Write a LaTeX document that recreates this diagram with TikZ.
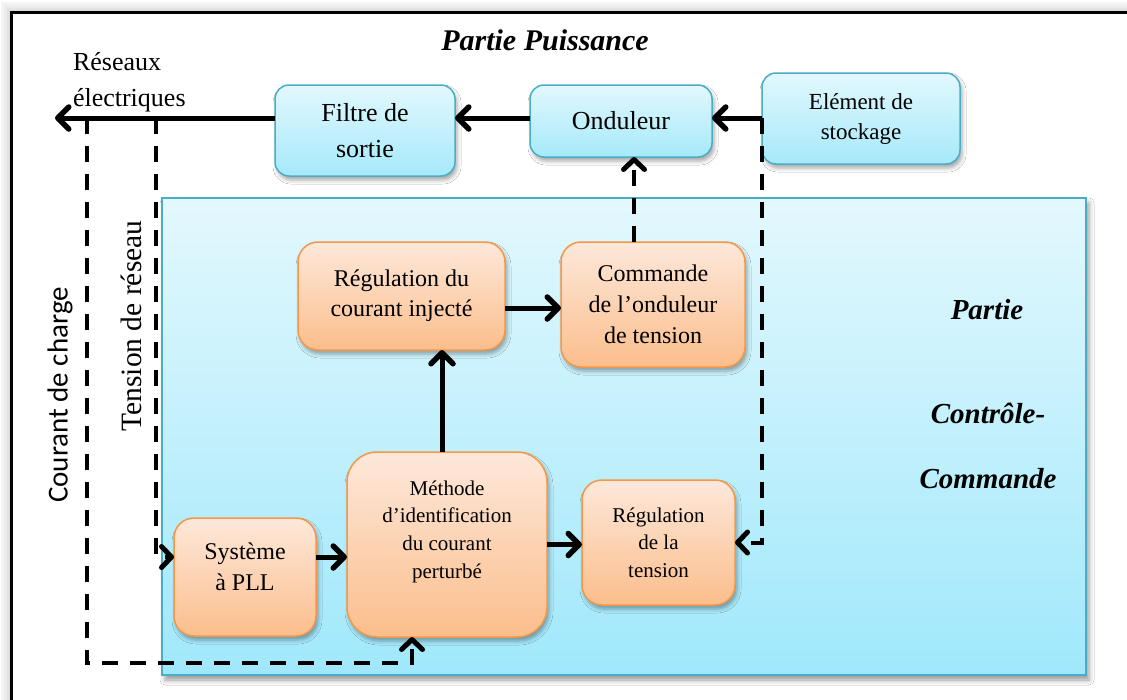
\documentclass[tikz,border=0pt]{standalone}
\usepackage{fontspec}
\setmainfont{Liberation Serif}
\newfontfamily\labelsans{Carlito}
\usetikzlibrary{arrows.meta,shadows.blur}

\definecolor{boxteal}{RGB}{75,172,198}
\definecolor{bluetop}{RGB}{226,248,253}
\definecolor{bluebot}{RGB}{166,233,250}
\definecolor{paneltop}{RGB}{227,248,253}
\definecolor{panelbot}{RGB}{160,232,252}
\definecolor{boxorange}{RGB}{247,150,70}
\definecolor{orangetop}{RGB}{253,232,218}
\definecolor{orangebot}{RGB}{251,190,140}

\begin{document}
\begin{tikzpicture}[x=1pt,y=-1pt,
  every node/.style={inner sep=0pt,outer sep=0pt},
  softshadow/.style={blur shadow={shadow xshift=2pt,shadow yshift=-4pt,
      shadow blur radius=4pt,shadow opacity=35}},
  pbox/.style={draw=boxteal,line width=1.5pt,rounded corners=14pt,
      top color=bluetop,bottom color=bluebot,align=center,softshadow},
  cbox/.style={draw=boxorange,line width=1.5pt,rounded corners=20pt,
      top color=orangetop,bottom color=orangebot,align=center,softshadow},
  flow/.style={line width=5pt,line cap=butt,
      -{Straight Barb[length=11pt,width=22pt,round,line width=5.5pt]}},
  sig/.style={line width=4pt,dash pattern=on 16pt off 12pt,
      -{Straight Barb[length=10pt,width=21pt,round,line width=5pt]}},
  ttl/.style={font=\fontsize{30}{36}\selectfont\bfseries\itshape},
  side/.style={font=\fontsize{29}{36}\selectfont\bfseries\itshape}]

\useasboundingbox (0,0) rectangle (1127,699);
\clip (0,0) rectangle (1127,699);
\fill[white] (0,0) rectangle (1127,699);

% outer frame with a soft grey halo
\foreach \k/\op in {10/0.04,8/0.06,6/0.08,4/0.11,2/0.15}
  \draw[black,opacity=\op,line width=2pt] (11.5-\k,12.5-\k) rectangle (1160+\k,720+\k);
\draw[black,line width=3pt] (11.5,12.5) rectangle (1160,720);

% control section background
\path[draw=boxteal,line width=2pt,top color=paneltop,bottom color=panelbot,
  blur shadow={shadow xshift=3pt,shadow yshift=-5pt,shadow blur radius=5pt,shadow opacity=40}]
  (162,198) rectangle (1086,675);

% titles
\node[ttl,anchor=base] (tpow) at (545,50) {Partie Puissance};
\node[side,anchor=base] (tc1) at (987,319) {Partie};
\node[side,anchor=base] (tc2) at (988,423) {Contrôle-};
\node[side,anchor=base] (tc3) at (988,488) {Commande};

\node[anchor=west,align=left,font=\fontsize{26}{36}\selectfont] (grid label) at (73,82)
  {Réseaux\\électriques};
\node[rotate=90,font=\labelsans\fontsize{29}{34}\selectfont] (iload) at (60,395) {Courant de charge};
\node[rotate=90,font=\fontsize{29.5}{34}\selectfont] (vgrid) at (131,326) {Tension de réseau};

% connection points on the power line
\coordinate (tapS) at (762,118);
\coordinate (grid) at (55,118);
\coordinate (tapI) at (87,118);
\coordinate (tapV) at (156,118);
\coordinate (ic) at (412,663);

% power blocks
\node[pbox,minimum width=180pt,minimum height=91pt,font=\fontsize{26}{36}\selectfont]
  (filt) at (365,130.5) {Filtre de\\sortie};
\node[pbox,minimum width=182pt,minimum height=72pt,font=\fontsize{26}{36}\selectfont]
  (ond) at (621,121) {Onduleur};
\node[pbox,minimum width=198pt,minimum height=91pt,font=\fontsize{23}{30}\selectfont]
  (stock) at (861,118.5) {Elément de\\stockage};

% control blocks
\node[cbox,minimum width=207pt,minimum height=108pt,font=\fontsize{24}{30}\selectfont]
  (regC) at (401.5,296) {Régulation du\\courant injecté};
\node[cbox,minimum width=184pt,minimum height=125pt,font=\fontsize{24}{31}\selectfont]
  (cmd) at (653,304.5) {Commande\\de l’onduleur\\de tension};
\node[cbox,minimum width=142pt,minimum height=118pt,
  label={[name=pllT,yshift=10pt,align=center,font=\fontsize{24}{31}\selectfont]center:Système\\à PLL}]
  (pll) at (245,577) {};
\node[cbox,rounded corners=30pt,minimum width=200pt,minimum height=185pt,
  label={[name=methT,yshift=13pt,align=center,font=\fontsize{21}{27.7}\selectfont]center:Méthode\\d’identification\\du courant\\perturbé}]
  (meth) at (447,544.5) {};
\node[cbox,minimum width=153pt,minimum height=125pt,font=\fontsize{21}{27.5}\selectfont]
  (regT) at (658.5,542.5) {Régulation\\de la\\tension};

% measurement and command signals
\draw[sig] (tapS) |- (regT.east);
\draw[sig] (tapI) |- (ic) -- (ic |- meth.south);
\draw[sig] (tapV) |- ([yshift=20pt]pll.west);
\draw[sig] ([xshift=13pt]ond.south |- cmd.north) -- ([xshift=13pt]ond.south);

% power flow
\draw[flow] (tapS) -- (tapS -| ond.east);
\draw[flow] (tapS -| ond.west) -- (tapS -| filt.east);
\draw[flow] (tapS -| filt.west) -- (grid);

% control flow
\draw[flow] ([yshift=20pt]pll.east) -- ([yshift=20pt]pll.east -| meth.west);
\draw[flow] (meth.east) -- (meth.east -| regT.west);
\draw[flow] ([xshift=-5pt]meth.north) -- ([xshift=-5pt]meth.north |- regC.south);
\draw[flow] ([yshift=-12pt]regC.east) -- ([yshift=-12pt]regC.east -| cmd.west);

\end{tikzpicture}
\end{document}
